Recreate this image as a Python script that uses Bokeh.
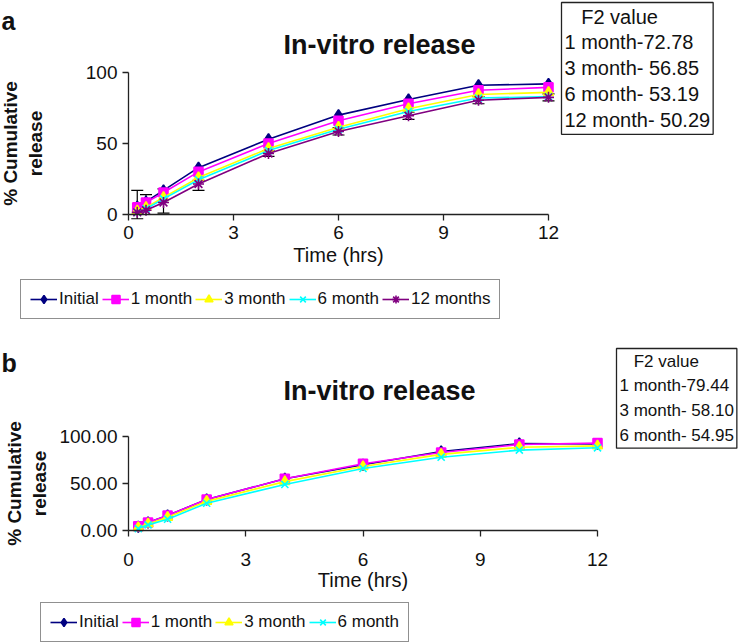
from bokeh.plotting import figure
from bokeh.models import (ColumnDataSource, Legend, LegendItem, Label, Whisker, TeeHead,
                          FixedTicker, NumeralTickFormatter)
from bokeh.layouts import column
from bokeh.embed import file_html
from bokeh.resources import INLINE

# ---------------- data ----------------
time_hrs = [0.25, 0.5, 1, 2, 4, 6, 8, 10, 12]

a_initial = [5.5, 9, 17, 33, 53, 70, 81, 91, 92]
a_1month = [5, 8.5, 15.5, 30, 50, 66, 78, 87.5, 89.5]
a_3month = [2.5, 5, 12, 26, 46.5, 61.5, 74.5, 84.5, 86]
a_6month = [1.5, 4, 11, 24.5, 45, 60, 72.5, 82, 83]
a_12month = [1.5, 3, 8.5, 21.5, 43, 58.5, 69.5, 80.5, 82.5]
a_err_upper = [17, 14, 18, 24, 45, 61, 72, 83, 85]
a_err_lower = [-3, 0, 1, 17, 41, 56, 67, 78, 80]

b_initial = [4, 8.5, 16, 33, 55, 70, 84, 92.5, 92]
b_1month = [4.5, 8.5, 16, 33, 55, 71, 83, 91.5, 93]
b_3month = [3, 7, 14, 31, 52, 68, 81, 88.5, 90]
b_6month = [2, 6, 12, 29, 49, 66, 78, 85.5, 88]

names_a = ["Initial", "1 month", "3 month", "6 month", "12 months"]
names_b = ["Initial", "1 month", "3 month", "6 month"]
x_ticks = [0, 3, 6, 9, 12]
y_ticks = [0, 50, 100]
f2_title = "F2 value"
f2_a = ["1 month-72.78", "3 month- 56.85", "6 month- 53.19", "12 month- 50.29"]
f2_b = ["1 month-79.44", "3 month- 58.10", "6 month- 54.95"]

colors = ["#000080", "#FF00FF", "#FFFF00", "#00FFFF", "#800080"]
markers = ["diamond", "square", "triangle", "x", "asterisk"]
msizes = [11, 9, 10, 10, 11]

FONT = "Liberation Sans"
INK = "#111111"
X_MAX, Y_MAX = 12, 100


def make_panel(c, series, names, f2_lines, errs=None):
    W, H = c["W"], c["H"]
    # pixel geometry of the data area inside the canvas
    sx = (c["x1"] - c["x0"]) / X_MAX
    sy = (c["y0"] - c["y1"]) / Y_MAX

    def dx(px):
        return (px - c["x0"]) / sx

    def dy(py):
        return (c["y0"] - py) / sy

    p = figure(width=W, height=H, x_range=(dx(0), dx(W)), y_range=(dy(H), dy(0)),
               output_backend="svg", toolbar_location=None,
               min_border_left=0, min_border_right=0, min_border_top=0,
               min_border_bottom=0)
    p.outline_line_color = None
    p.xgrid.visible = False
    p.ygrid.visible = False

    for ax in (p.xaxis[0], p.yaxis[0]):
        ax.fixed_location = 0
        ax.axis_line_color = "#222222"
        ax.axis_line_width = 1.3
        ax.major_tick_line_color = "#222222"
        ax.major_tick_line_width = 1.3
        ax.major_tick_out = 6
        ax.major_tick_in = 0
        ax.minor_tick_line_color = None
        ax.major_label_text_font = FONT
        ax.major_label_text_font_size = "19px"
        ax.major_label_text_color = INK
    p.xaxis.bounds = (0, X_MAX)
    p.yaxis.bounds = (0, Y_MAX)
    p.yaxis.major_label_standoff = 5
    p.xaxis.major_label_standoff = c["x_lab_std"]

    p.xaxis.ticker = FixedTicker(ticks=x_ticks)
    p.yaxis.ticker = FixedTicker(ticks=y_ticks)
    p.yaxis.formatter = NumeralTickFormatter(format=c["fmt"])
    p.xaxis.axis_label = "Time (hrs)"
    p.xaxis.axis_label_text_font = FONT
    p.xaxis.axis_label_text_font_style = "normal"
    p.xaxis.axis_label_text_font_size = "20px"
    p.xaxis.axis_label_text_color = INK
    p.xaxis.axis_label_standoff = c["x_ax_std"]
    p.yaxis.axis_label = "% Cumulative\nrelease"
    p.yaxis.axis_label_text_font = FONT
    p.yaxis.axis_label_text_font_style = "bold"
    p.yaxis.axis_label_text_font_size = "19px"
    p.yaxis.axis_label_text_color = INK
    p.yaxis.axis_label_standoff = c["y_std"]

    items = []
    for i, (ys, name) in enumerate(zip(series, names)):
        src = ColumnDataSource(dict(x=time_hrs, y=ys))
        lr = p.line("x", "y", source=src, line_color=colors[i], line_width=1.6)
        sr = p.scatter("x", "y", source=src, marker=markers[i], size=msizes[i],
                       fill_color=colors[i], line_color=colors[i], line_width=1.6)
        items.append(LegendItem(label=name, renderers=[lr, sr]))

    if errs is not None:
        esrc = ColumnDataSource(dict(x=time_hrs, lo=errs[0], hi=errs[1]))
        w = Whisker(base="x", lower="lo", upper="hi", source=esrc,
                    line_color="black", line_width=1.2,
                    upper_head=TeeHead(size=12, line_color="black", line_width=1.2),
                    lower_head=TeeHead(size=12, line_color="black", line_width=1.2))
        p.add_layout(w)

    # series legend (location = bottom-left corner, px from canvas bottom-left)
    leg = Legend(items=items, orientation="horizontal", location=c["leg_loc"])
    leg.label_text_font = FONT
    leg.label_text_font_size = "17px"
    leg.label_text_color = INK
    leg.glyph_width = 27
    leg.glyph_height = 20
    leg.label_standoff = 2
    leg.spacing = 3
    leg.padding = 9
    leg.margin = 0
    leg.border_line_color = "#222222"
    leg.border_line_width = 1.3
    p.add_layout(leg)

    # title and panel letter
    p.add_layout(Label(x=dx(c["title"][0]), y=dy(c["title"][1]), text="In-vitro release",
                       text_align="center", text_baseline="alphabetic",
                       text_font=FONT, text_font_style="bold",
                       text_font_size="27px", text_color=INK))
    p.add_layout(Label(x=dx(c["letter_xy"][0]), y=dy(c["letter_xy"][1]), text=c["letter"],
                       text_align="left", text_baseline="alphabetic",
                       text_font=FONT, text_font_style="bold",
                       text_font_size="25px", text_color=INK))

    # F2 value box
    f2_text = "\u00a0\u00a0\u00a0" + f2_title + "\n" + "\n".join(f2_lines)
    p.add_layout(Label(x=dx(c["f2_xy"][0]), y=dy(c["f2_xy"][1]), text=f2_text,
                       text_align="left", text_baseline="top",
                       text_font=FONT, text_font_size=c["f2_font"],
                       text_line_height=c["f2_lh"], text_color=INK,
                       padding=3, border_line_color="#222222", border_line_width=1.3,
                       background_fill_color="white"))
    return p


# canvas pixel geometry (panel a: page y 0..330, panel b: page y 330..644)
cfg_a = dict(W=742, H=330, x0=128, x1=548, y0=214, y1=72, fmt="0", y_std=37,
             x_lab_std=5, x_ax_std=2, letter="a", letter_xy=(1, 20), title=(379, 44),
             leg_loc=(20, 11), f2_xy=(561, 2), f2_font="20px", f2_lh=1.18)
cfg_b = dict(W=742, H=314, x0=128, x1=597, y0=200, y1=106, fmt="0.00", y_std=6,
             x_lab_std=16, x_ax_std=0, letter="b", letter_xy=(1, 32), title=(379, 60),
             leg_loc=(40, 2), f2_xy=(616, 18), f2_font="17px", f2_lh=1.31)

pa = make_panel(cfg_a, [a_initial, a_1month, a_3month, a_6month, a_12month], names_a, f2_a,
                errs=(a_err_lower, a_err_upper))
pb = make_panel(cfg_b, [b_initial, b_1month, b_3month, b_6month], names_b, f2_b)

layout = column(pa, pb, spacing=0)
open("out.html", "w").write(file_html(layout, INLINE))
